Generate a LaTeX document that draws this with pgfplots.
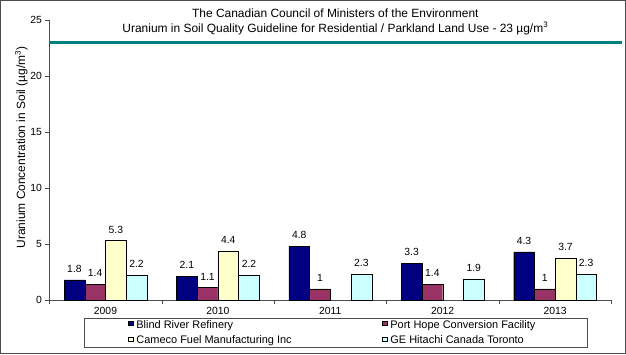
\documentclass[border=0pt]{standalone}
\usepackage{fontspec}
\setmainfont{Liberation Sans}
\usepackage{pgfplots}
\pgfplotsset{compat=1.18}
\definecolor{bnavy}{HTML}{000080}
\definecolor{bmaroon}{HTML}{993366}
\definecolor{byellow}{HTML}{FFFFCC}
\definecolor{bcyan}{HTML}{CCFFFF}
\definecolor{gline}{HTML}{008080}
\begin{document}
\begin{tikzpicture}[x=1bp,y=1bp]
\useasboundingbox (0,0) rectangle (626,354);
\draw[draw=black!70, line width=1.2bp] (0.6,0.6) rectangle (625.4,353.4);
\begin{axis}[
  at={(49.3bp,54bp)}, anchor=south west,
  scale only axis, width=562bp, height=280bp,
  xmin=-0.5, xmax=4.5, ymin=0, ymax=25,
  axis x line*=bottom, axis y line*=left,
  axis line style={black!70},
  ytick={0,5,...,25},
  xtick={0,1,2,3,4}, xticklabels={2009,2010,2011,2012,2013},
  major x tick style={draw=none},
  minor xtick={-0.5,0.5,1.5,2.5,3.5,4.5},
  minor tick length=4bp, major tick length=4bp,
  tick align=outside, tick style={black!70},
  ticklabel style={font=\fontsize{10.4}{12}\selectfont},
  /pgf/number format/assume math mode=true,
  ylabel={Uranium Concentration in Soil (µg/m\textsuperscript{3})},
  ylabel style={font=\fontsize{12}{14}\selectfont, at={(axis description cs:0,0.5)}, anchor=center, xshift=12.5bp, yshift=28bp},
  title={The Canadian Council of Ministers of the Environment\\Uranium in Soil Quality Guideline for Residential / Parkland Land Use - 23 µg/m\textsuperscript{3}},
  title style={at={(0.509,1)}, anchor=north, inner sep=0pt, yshift=5bp, align=center, font=\fontsize{12}{14.5}\selectfont},
  ybar=0pt, bar width=20.7bp,
  nodes near coords,
  nodes near coords style={font=\fontsize{10.4}{12}\selectfont, anchor=south, yshift=4bp, black},
  legend style={at={(0.51,-0.066)}, anchor=north, legend columns=2, draw=black!70,
    font=\fontsize{11}{13}\selectfont, inner xsep=44bp, inner ysep=0.5bp, row sep=3bp,
    nodes={inner xsep=3bp, inner ysep=1bp, text height=8bp, text depth=2.5bp}},
  legend cell align=left,
  legend image code/.code={\draw[#1, draw=black, line width=0.6bp] (0bp,-0.3bp) rectangle (4.4bp,4.1bp);},
  clip=false,
]
\addplot[fill=bnavy, draw=black] coordinates {(0,1.8) (1,2.1) (2,4.8) (3,3.3) (4,4.3)};
\addlegendentry{\makebox[243bp][l]{Blind River Refinery}}
\addplot[fill=bmaroon, draw=black] coordinates {(0,1.4) (1,1.1) (2,1) (3,1.4) (4,1)};
\addlegendentry{\makebox[150bp][l]{Port Hope Conversion Facility}}
\addplot[fill=byellow, draw=black] coordinates {(0,5.3) (1,4.4) (4,3.7)};
\addlegendentry{\makebox[243bp][l]{Cameco Fuel Manufacturing Inc}}
\addplot[fill=bcyan, draw=black] coordinates {(0,2.2) (1,2.2) (2,2.3) (3,1.9) (4,2.3)};
\addlegendentry{\makebox[150bp][l]{GE Hitachi Canada Toronto}}
\addplot[sharp plot, gline, line width=2.6bp, nodes near coords=, forget plot] coordinates {(-0.5,23) (4.595,23)};
\end{axis}
\end{tikzpicture}
\end{document}
